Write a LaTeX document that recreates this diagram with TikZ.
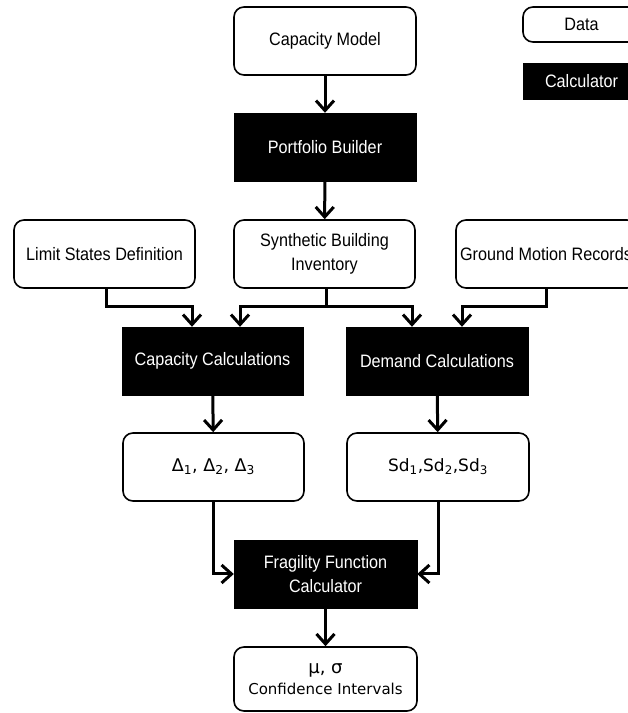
\documentclass[tikz,border=0pt]{standalone}
\usepackage{fontspec}
\setmainfont{Liberation Sans}[FakeStretch=0.9]
\newfontfamily\dvfont{DejaVu Sans}
\usetikzlibrary{arrows.meta}
\begin{document}
\begin{tikzpicture}[x=1pt,y=1pt,
  databox/.style={draw=black,line width=1.6pt,rounded corners=10pt,fill=white,align=center,inner sep=0pt,minimum height=68,font=\fontsize{18}{24}\selectfont},
  calcbox/.style={draw=black,fill=black,text=white,align=center,inner sep=0pt,minimum height=68,font=\fontsize{18}{24}\selectfont},
  conn/.style={line width=3pt,-{Straight Barb[length=10pt,width=18pt,line width=3pt]}}]
\clip (0,0) rectangle (628,713);
\fill[white] (0,0) rectangle (628,713);
% legend
\node[databox,minimum width=117,minimum height=35] (leg1) at (581.5,688.5) {Data};
\node[calcbox,minimum width=117,minimum height=36] (leg2) at (581.5,632) {Calculator};
% nodes
\node[databox,minimum width=182] (cm) at (325,672) {Capacity Model};
\node[calcbox,minimum width=182] (pb) at (325,566) {Portfolio Builder};
\node[databox,minimum width=181] (ls) at (104.5,459) {Limit States Definition};
\node[databox,minimum width=181] (sb) at (324.5,459) {Synthetic Building\\Inventory};
\node[databox,minimum width=181,inner xsep=4pt] (gm) at (546.5,459) {\makebox[173pt][l]{Ground Motion Records}};
\node[calcbox,minimum width=181] (cc) at (212.5,352) {Capacity Calculations};
\node[calcbox,minimum width=182] (dc) at (437,352) {Demand Calculations};
\node[databox,minimum width=181,font=\dvfont\fontsize{17.5}{20}\selectfont] (dl) at (213.5,246) {Δ\textsubscript{1}, Δ\textsubscript{2}, Δ\textsubscript{3}};
\node[databox,minimum width=182,font=\dvfont\fontsize{17}{20}\selectfont] (sd) at (438,246) {Sd\textsubscript{1},Sd\textsubscript{2},Sd\textsubscript{3}};
\node[calcbox,minimum width=183] (ff) at (325.5,139) {Fragility Function\\Calculator};
\node[databox,minimum width=183,minimum height=64,font=\dvfont\fontsize{18}{21}\selectfont] (res) at (325.5,34) {μ, σ\\{\fontsize{15}{17}\selectfont Confidence Intervals}};
% connectors
\coordinate (j) at (326,406);
\draw[conn] (cm) -- (pb);
\draw[conn] (pb) -- (sb);
\draw[conn] ([xshift=1.5pt]ls.south) |- ([xshift=-20.5pt]cc.north |- j) -- ([xshift=-20.5pt]cc.north);
\draw[conn] ([xshift=1.5pt]sb.south) -- (j) -| ([xshift=27.5pt]cc.north);
\draw[conn] (j) -| ([xshift=-25pt]dc.north);
\draw[conn] (gm.south) |- ([xshift=25pt]dc.north |- j) -- ([xshift=25pt]dc.north);
\draw[conn] (cc) -- (dl);
\draw[conn] (dc) -- (sd);
\draw[conn] (dl.south) |- (ff.west);
\draw[conn] (sd.south) |- (ff.east);
\draw[conn] (ff) -- (res);
\end{tikzpicture}
\end{document}
